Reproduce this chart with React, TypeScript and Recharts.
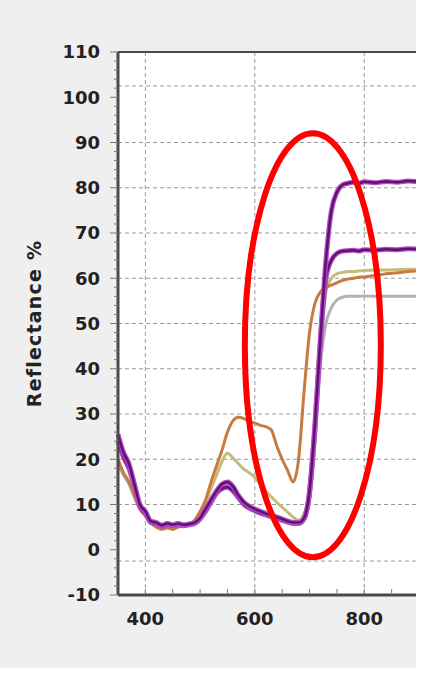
import React from "react";
import {
  LineChart,
  Line,
  XAxis,
  YAxis,
  CartesianGrid,
  ReferenceLine,
  ReferenceDot,
} from "recharts";

// wavelength (nm)
const wavelengths = [
  350, 360, 370, 380, 390, 400, 410, 420, 430, 440, 450, 460, 470, 480, 490,
  500, 510, 520, 530, 540, 550, 560, 570, 580, 590, 600, 610, 620, 630, 640,
  650, 660, 670, 680, 690, 700, 710, 720, 730, 740, 750, 760, 770, 780, 790,
  800, 820, 840, 860, 880, 900,
];

// reflectance % per sample
const purpleHigh = [
  25.5, 21.5, 19, 14.5, 10, 8.5, 6.3, 6, 5.4, 5.8, 5.5, 5.8, 5.5, 5.7, 6, 7, 9,
  11, 13, 14.5, 15, 14, 12, 10.5, 9.6, 9, 8.5, 8, 7.6, 7.2, 6.8, 6.3, 6, 6, 7,
  13, 28, 47, 64, 75, 79, 80.6, 81, 81.2, 81, 81.3, 81.1, 81.4, 81.2, 81.5, 81.3,
];
const purpleLow = [
  24, 20.5, 18, 14, 9.5, 8, 6, 5.7, 5.2, 5.5, 5.3, 5.5, 5.3, 5.5, 5.8, 6.8, 8.5,
  10.5, 12.5, 13.5, 13.8, 13, 11.5, 10, 9.2, 8.6, 8.1, 7.7, 7.3, 6.9, 6.5, 6.1,
  5.8, 5.8, 6.8, 12.5, 27, 46, 60, 64, 65.5, 66, 66.1, 66.2, 66, 66.3, 66.2, 66.4,
  66.3, 66.5, 66.4,
];
const orange = [
  20, 17, 15, 12, 9, 7.5, 6, 5, 4.5, 4.8, 4.5, 5, 5.2, 5.5, 6.5, 8.5, 11, 15,
  18.5, 22, 26, 28.5, 29.3, 29, 28.3, 28, 27.5, 27.2, 26.5, 23, 20, 17.5, 15, 20,
  35, 48, 54.5, 57, 58, 58.5, 59, 59.5, 59.8, 60, 60.2, 60.3, 60.6, 61, 61.2,
  61.5, 61.6,
];
const khaki = [
  20, 17, 15, 12, 9.5, 8, 6.5, 5.5, 5.2, 5.3, 5.2, 5.5, 5.6, 5.8, 6.5, 8, 10.5,
  13.5, 16.5, 19.5, 21.3, 20.3, 19, 17.8, 17, 16, 14.5, 13, 11.7, 10.5, 9.4, 8.3,
  7.2, 6.5, 8, 13, 28, 46, 57, 60, 61, 61.3, 61.5, 61.5, 61.6, 61.7, 61.8, 61.8,
  61.9, 62, 62,
];
const grey = [
  19, 16.5, 14.5, 11.5, 9, 7.5, 6.2, 5.5, 5.2, 5.3, 5.2, 5.4, 5.5, 5.7, 6.3, 7.5,
  9.5, 11.5, 13, 14, 14.2, 13.3, 12, 10.5, 9.7, 9.2, 8.7, 8.3, 7.9, 7.5, 7, 6.6,
  6.3, 6.2, 7, 11, 24, 41, 50, 53.5, 55.2, 55.8, 56, 56, 56, 56.1, 56, 56, 56,
  56, 56,
];

const xTicks = [400, 450, 500, 550, 600, 650, 700, 750, 800, 850];
const xLabels = [400, 600, 800];
const yTicks = [
  -10, -8, -6, -4, -2, 0, 2, 4, 6, 8, 10, 12, 14, 16, 18, 20, 22, 24, 26, 28, 30,
  32, 34, 36, 38, 40, 42, 44, 46, 48, 50, 52, 54, 56, 58, 60, 62, 64, 66, 68, 70,
  72, 74, 76, 78, 80, 82, 84, 86, 88, 90, 92, 94, 96, 98, 100, 102, 104, 106, 108,
  110,
];
const gridY = [102.5, 90, 80, 70, 60, 50, 40, 30, 20, 10, -2.5];
const gridX = [400, 600, 800];
const highlight = { x: 706, y: 45.2 };

const data = wavelengths.map((w, i) => ({
  w,
  purpleHigh: purpleHigh[i],
  purpleLow: purpleLow[i],
  orange: orange[i],
  khaki: khaki[i],
  grey: grey[i],
}));

const font = "'DejaVu Sans', Verdana, sans-serif";

const YTick = (props: any) => {
  const { x, y, payload } = props;
  const major = payload.value % 10 === 0;
  return (
    <g>
      <line x1={x - (major ? 8 : 4)} x2={x} y1={y} y2={y} stroke="#777" />
      {major && (
        <text
          x={x - 18}
          y={y}
          dy="0.36em"
          textAnchor="end"
          fontFamily={font}
          fontWeight="bold"
          fontSize={18}
          fill="#222"
        >
          {payload.value}
        </text>
      )}
    </g>
  );
};

const XTick = (props: any) => {
  const { x, y, payload } = props;
  const show = xLabels.includes(payload.value);
  return (
    <g>
      <line x1={x} x2={x} y1={y - 2} y2={y - 6} stroke="#777" />
      {show && (
        <text
          x={x}
          y={y + 17}
          dy="0.71em"
          textAnchor="middle"
          fontFamily={font}
          fontWeight="bold"
          fontSize={18}
          fill="#222"
        >
          {payload.value}
        </text>
      )}
    </g>
  );
};

const Ellipse = (props: any) => (
  <ellipse
    cx={props.cx}
    cy={props.cy}
    rx={68}
    ry={212}
    fill="none"
    stroke="#f00"
    strokeWidth={6}
  />
);

export default function App() {
  return (
    <div
      style={{
        position: "absolute",
        left: 0,
        top: 0,
        width: 424,
        height: 675,
        background: "#fff",
      }}
    >
      <div
        style={{
          width: 416,
          height: 668,
          overflow: "hidden",
          background: "#efefef",
        }}
      >
        <LineChart
          width={424}
          height={675}
          data={data}
          margin={{ top: 52, right: 5, left: 0, bottom: 0 }}
        >
          <CartesianGrid
            fill="#fff"
            stroke="none"
            horizontal={false}
            vertical={false}
          />
          <XAxis
            dataKey="w"
            type="number"
            domain={[350, 900]}
            ticks={xTicks}
            interval={0}
            tick={<XTick />}
            tickSize={0}
            tickMargin={0}
            tickLine={false}
            axisLine={{ stroke: "#4a4a4a", strokeWidth: 3 }}
            height={80}
          />
          <YAxis
            type="number"
            domain={[-10, 110]}
            ticks={yTicks}
            interval={0}
            tick={<YTick />}
            tickSize={0}
            tickMargin={0}
            tickLine={false}
            axisLine={{ stroke: "#4a4a4a", strokeWidth: 3 }}
            width={118}
            label={{
              value: "Reflectance %",
              angle: -90,
              position: "insideLeft",
              offset: 34,
              style: {
                textAnchor: "middle",
                fontFamily: font,
                fontWeight: "bold",
                fontSize: 19,
                letterSpacing: 1.2,
                fill: "#222",
              },
            }}
          />
          {gridY.map((v) => (
            <ReferenceLine
              key={"gy" + v}
              y={v}
              stroke="#999"
              strokeDasharray="4 3"
            />
          ))}
          {gridX.map((v) => (
            <ReferenceLine
              key={"gx" + v}
              x={v}
              stroke="#999"
              strokeDasharray="4 3"
            />
          ))}
          <ReferenceLine y={110} stroke="#4a4a4a" strokeWidth={2} />
          <Line
            dataKey="grey"
            type="monotone"
            stroke="#b3b0b8"
            strokeWidth={3}
            dot={false}
            isAnimationActive={false}
          />
          <Line
            dataKey="khaki"
            type="monotone"
            stroke="#c6bc7a"
            strokeWidth={3}
            dot={false}
            isAnimationActive={false}
          />
          <Line
            dataKey="orange"
            type="monotone"
            stroke="#c87b3f"
            strokeWidth={3}
            dot={false}
            isAnimationActive={false}
          />
          <Line
            dataKey="purpleLow"
            type="monotone"
            stroke="#b24fc4"
            strokeWidth={5}
            dot={false}
            isAnimationActive={false}
          />
          <Line
            dataKey="purpleLow"
            type="monotone"
            stroke="#620f76"
            strokeWidth={2.5}
            dot={false}
            isAnimationActive={false}
          />
          <Line
            dataKey="purpleHigh"
            type="monotone"
            stroke="#b24fc4"
            strokeWidth={5}
            dot={false}
            isAnimationActive={false}
          />
          <Line
            dataKey="purpleHigh"
            type="monotone"
            stroke="#620f76"
            strokeWidth={2.5}
            dot={false}
            isAnimationActive={false}
          />
          <ReferenceDot
            x={highlight.x}
            y={highlight.y}
            ifOverflow="visible"
            shape={<Ellipse />}
          />
        </LineChart>
      </div>
    </div>
  );
}
